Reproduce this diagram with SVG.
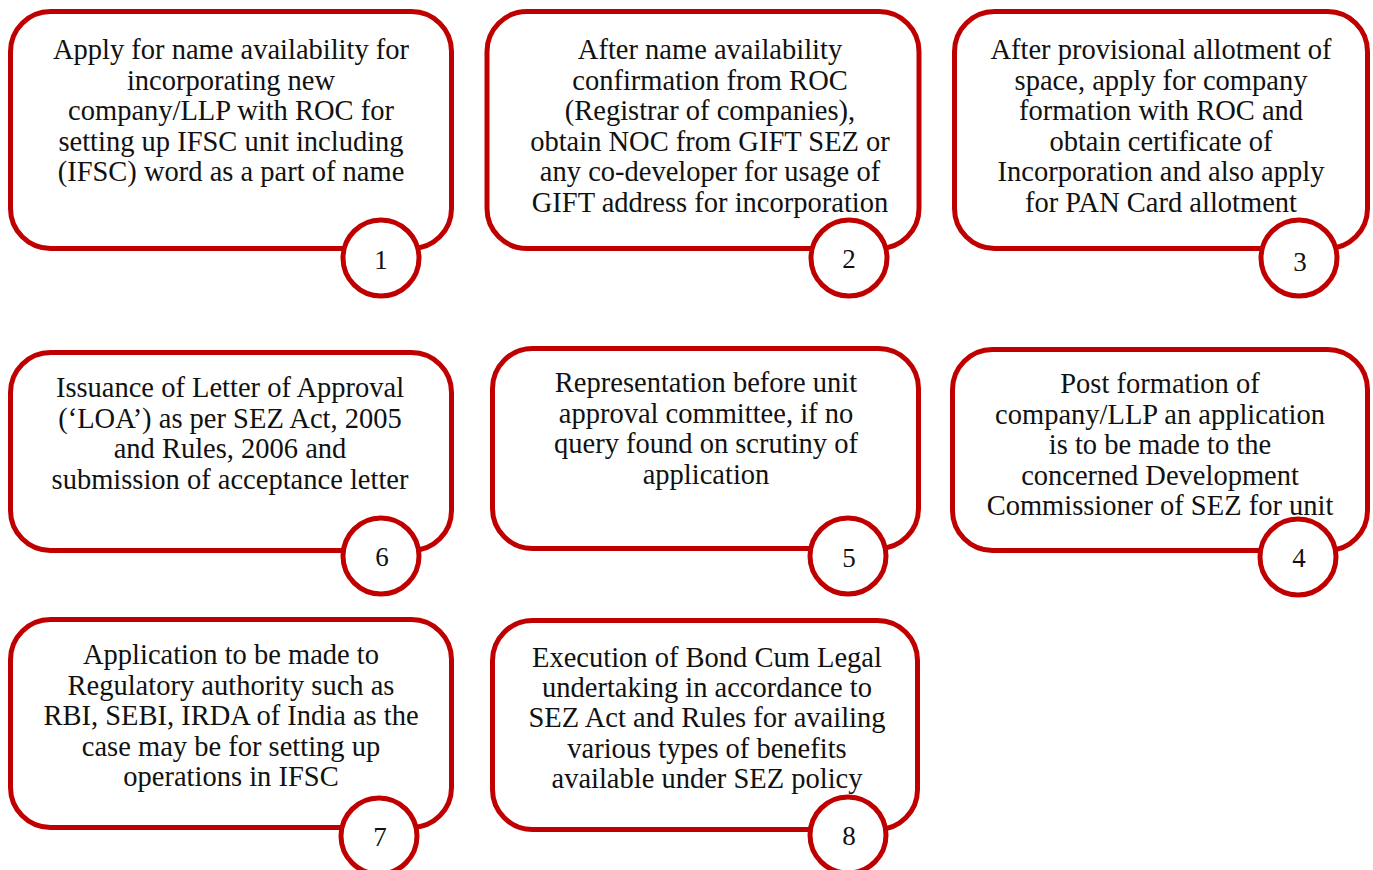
<svg xmlns="http://www.w3.org/2000/svg" width="1373" height="870" viewBox="0 0 1373 870">
<style>
.box{fill:#fff;stroke:#C00000;stroke-width:5}
.num{fill:#fff;stroke:#C00000;stroke-width:5}
.t{font-family:"Liberation Serif","DejaVu Serif",serif;font-size:28.5px;fill:#111;text-anchor:middle}
.n{font-family:"Liberation Serif","DejaVu Serif",serif;font-size:27px;fill:#111;text-anchor:middle}
</style>
<rect width="1373" height="870" fill="#fff"/>
<g id="connectors"></g>
<g id="node1">
<rect class="box" x="10.5" y="11.5" width="441" height="237" rx="40"/>
<text class="t"><tspan x="231" y="59">Apply for name availability for</tspan><tspan x="231" y="90">incorporating new</tspan><tspan x="231" y="120">company/LLP with ROC for</tspan><tspan x="231" y="151">setting up IFSC unit including</tspan><tspan x="231" y="181">(IFSC) word as a part of name</tspan></text>
<circle class="num" cx="381" cy="258" r="38"/>
<text class="n" x="381" y="269">1</text>
</g>
<g id="node2">
<rect class="box" x="487" y="11.5" width="432" height="237" rx="40"/>
<text class="t"><tspan x="710" y="59">After name availability</tspan><tspan x="710" y="90">confirmation from ROC</tspan><tspan x="710" y="120">(Registrar of companies),</tspan><tspan x="710" y="151">obtain NOC from GIFT SEZ or</tspan><tspan x="710" y="181">any co-developer for usage of</tspan><tspan x="710" y="212">GIFT address for incorporation</tspan></text>
<circle class="num" cx="849" cy="258" r="38"/>
<text class="n" x="849" y="268">2</text>
</g>
<g id="node3">
<rect class="box" x="954.5" y="11.5" width="413" height="237" rx="40"/>
<text class="t"><tspan x="1161" y="59">After provisional allotment of</tspan><tspan x="1161" y="90">space, apply for company</tspan><tspan x="1161" y="120">formation with ROC and</tspan><tspan x="1161" y="151">obtain certificate of</tspan><tspan x="1161" y="181">Incorporation and also apply</tspan><tspan x="1161" y="212">for PAN Card allotment</tspan></text>
<circle class="num" cx="1299" cy="258" r="38"/>
<text class="n" x="1300" y="271">3</text>
</g>
<g id="node4">
<rect class="box" x="952.5" y="349.5" width="415" height="201" rx="40"/>
<text class="t"><tspan x="1160" y="393">Post formation of</tspan><tspan x="1160" y="424">company/LLP an application</tspan><tspan x="1160" y="454">is to be made to the</tspan><tspan x="1160" y="485">concerned Development</tspan><tspan x="1160" y="515">Commissioner of SEZ for unit</tspan></text>
<circle class="num" cx="1298" cy="557" r="38"/>
<text class="n" x="1299" y="567">4</text>
</g>
<g id="node5">
<rect class="box" x="492.5" y="348.5" width="426" height="200" rx="40"/>
<text class="t"><tspan x="706" y="392">Representation before unit</tspan><tspan x="706" y="423">approval committee, if no</tspan><tspan x="706" y="453">query found on scrutiny of</tspan><tspan x="706" y="484">application</tspan></text>
<circle class="num" cx="848" cy="556" r="38"/>
<text class="n" x="849" y="567">5</text>
</g>
<g id="node6">
<rect class="box" x="10.5" y="352.5" width="441" height="198" rx="40"/>
<text class="t"><tspan x="230" y="397">Issuance of Letter of Approval</tspan><tspan x="230" y="428">(‘LOA’) as per SEZ Act, 2005</tspan><tspan x="230" y="458">and Rules, 2006 and</tspan><tspan x="230" y="489">submission of acceptance letter</tspan></text>
<circle class="num" cx="381" cy="556" r="38"/>
<text class="n" x="382" y="566">6</text>
</g>
<g id="node7">
<rect class="box" x="10.5" y="619.5" width="441" height="208" rx="40"/>
<text class="t"><tspan x="231" y="664">Application to be made to</tspan><tspan x="231" y="695">Regulatory authority such as</tspan><tspan x="231" y="725">RBI, SEBI, IRDA of India as the</tspan><tspan x="231" y="756">case may be for setting up</tspan><tspan x="231" y="786">operations in IFSC</tspan></text>
<circle class="num" cx="379" cy="836" r="38"/>
<text class="n" x="380" y="846">7</text>
</g>
<g id="node8">
<rect class="box" x="492.5" y="620.5" width="425" height="209" rx="40"/>
<text class="t"><tspan x="707" y="667">Execution of Bond Cum Legal</tspan><tspan x="707" y="697">undertaking in accordance to</tspan><tspan x="707" y="727">SEZ Act and Rules for availing</tspan><tspan x="707" y="758">various types of benefits</tspan><tspan x="707" y="788">available under SEZ policy</tspan></text>
<circle class="num" cx="848" cy="835" r="38"/>
<text class="n" x="849" y="845">8</text>
</g>
</svg>
